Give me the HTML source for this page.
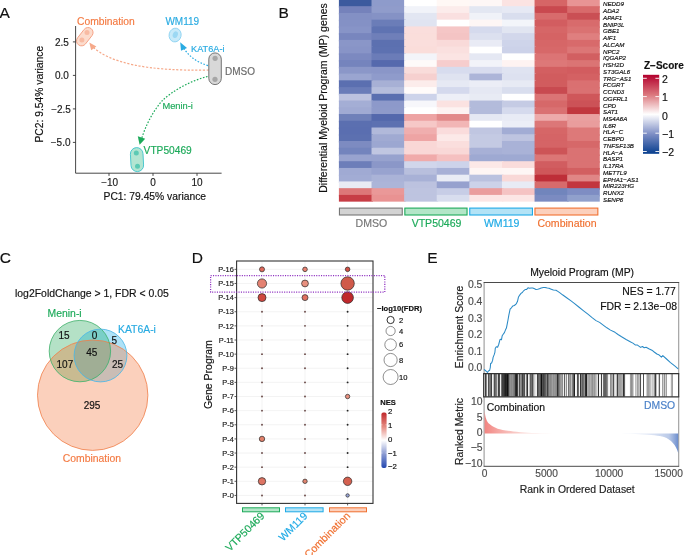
<!DOCTYPE html>
<html><head><meta charset="utf-8"><style>
html,body{margin:0;padding:0;background:#fff;}
svg{display:block;font-family:"Liberation Sans", sans-serif;filter:opacity(1);}
</style></head><body>
<svg width="685" height="555" viewBox="0 0 685 555">
<rect width="685" height="555" fill="#fff"/>
<text x="-0.40" y="17.80" font-size="15.5" fill="#111" stroke="#111" stroke-width="0.16" text-anchor="start">A</text>
<line x1="72.9" y1="41.90" x2="75.6" y2="41.90" stroke="#333" stroke-width="0.9"/>
<text x="68.80" y="45.50" font-size="10" fill="#1a1a1a" stroke="#1a1a1a" stroke-width="0.16" text-anchor="end">2.5</text>
<line x1="72.9" y1="75.40" x2="75.6" y2="75.40" stroke="#333" stroke-width="0.9"/>
<text x="68.80" y="79.00" font-size="10" fill="#1a1a1a" stroke="#1a1a1a" stroke-width="0.16" text-anchor="end">0.0</text>
<line x1="72.9" y1="108.90" x2="75.6" y2="108.90" stroke="#333" stroke-width="0.9"/>
<text x="70.90" y="112.50" font-size="10" fill="#1a1a1a" stroke="#1a1a1a" stroke-width="0.16" text-anchor="end">−2.5</text>
<line x1="72.9" y1="142.40" x2="75.6" y2="142.40" stroke="#333" stroke-width="0.9"/>
<text x="70.50" y="146.00" font-size="10" fill="#1a1a1a" stroke="#1a1a1a" stroke-width="0.16" text-anchor="end">−5.0</text>
<line x1="109.00" y1="173.2" x2="109.00" y2="175.9" stroke="#333" stroke-width="0.9"/>
<text x="109.70" y="186.30" font-size="10" fill="#1a1a1a" stroke="#1a1a1a" stroke-width="0.16" text-anchor="middle">−10</text>
<line x1="153.00" y1="173.2" x2="153.00" y2="175.9" stroke="#333" stroke-width="0.9"/>
<text x="153.00" y="186.30" font-size="10" fill="#1a1a1a" stroke="#1a1a1a" stroke-width="0.16" text-anchor="middle">0</text>
<line x1="197.00" y1="173.2" x2="197.00" y2="175.9" stroke="#333" stroke-width="0.9"/>
<text x="197.00" y="186.30" font-size="10" fill="#1a1a1a" stroke="#1a1a1a" stroke-width="0.16" text-anchor="middle">10</text>
<text x="154.80" y="200.20" font-size="10.3" fill="#111" stroke="#111" stroke-width="0.16" text-anchor="middle">PC1: 79.45% variance</text>
<text x="0" y="0" font-size="10.3" fill="#111" stroke="#111" stroke-width="0.16" text-anchor="middle" transform="translate(43.30,94.20) rotate(-90)">PC2: 9.54% variance</text>
<path d="M209,70 Q118,72 92,46" fill="none" stroke="#F6A98A" stroke-width="1.2" stroke-dasharray="2.2,1.6"/>
<path d="M89.3,42.5 L96.4,46.6 L91.2,50.2 Z" fill="#F6A98A"/>
<path d="M208,65.6 Q190,60 182.5,46" fill="none" stroke="#29ABE2" stroke-width="1.2" stroke-dasharray="1.6,1.6"/>
<path d="M180.2,42.3 L187.0,48.0 L181.0,50.8 Z" fill="#29ABE2"/>
<path d="M207.5,76.5 C190,81 172,91 162,101 C153,111 146,125 141.8,138" fill="none" stroke="#1DAA5A" stroke-width="1.2" stroke-dasharray="1.6,1.6"/>
<path d="M139.6,144.8 L137.8,136.3 L145.2,138.8 Z" fill="#1DAA5A"/>
<rect x="74.5" y="31.7" width="20.6" height="10.0" rx="5.0" transform="rotate(-52 84.8 36.7)" fill="#FCDCCD" stroke="#F5A285" stroke-width="0.9"/>
<circle cx="81.9" cy="39.9" r="2.5" fill="#F8BBA3"/><circle cx="87.0" cy="32.6" r="2.5" fill="#F8BBA3"/>
<ellipse cx="175.1" cy="35.05" rx="6.0" ry="6.9" transform="rotate(12 175.1 35.05)" fill="#C8EAF9" stroke="#8ED3F2" stroke-width="0.9"/>
<ellipse cx="175.3" cy="34.7" rx="2.5" ry="3.4" transform="rotate(20 175.3 34.7)" fill="#9CD8F3"/>
<rect x="208.8" y="52.9" width="12.5" height="31.7" rx="6.25" fill="#D8D8D8" stroke="#666" stroke-width="0.9"/>
<circle cx="215.1" cy="58.3" r="2.6" fill="#A6A6A6"/><circle cx="215.0" cy="79.3" r="2.6" fill="#A6A6A6"/>
<rect x="130.7" y="147.6" width="12.6" height="24.0" rx="6.3" transform="rotate(-3 137 159.6)" fill="#B3E5D2" stroke="#40C4CC" stroke-width="0.9"/>
<circle cx="136.3" cy="153.0" r="2.5" fill="#5CCAB4"/><circle cx="137.5" cy="166.2" r="2.5" fill="#5CCAB4"/>
<text x="77.00" y="25.00" font-size="10.3" fill="#F47A42" stroke="#F47A42" stroke-width="0.16" text-anchor="start">Combination</text>
<text x="165.40" y="25.00" font-size="10.0" fill="#29ABE2" stroke="#29ABE2" stroke-width="0.16" text-anchor="start">WM119</text>
<text x="191.00" y="51.70" font-size="9.2" fill="#29ABE2" stroke="#29ABE2" stroke-width="0.16" text-anchor="start">KAT6A-i</text>
<text x="225.00" y="75.00" font-size="10.0" fill="#6b6b6b" stroke="#6b6b6b" stroke-width="0.16" text-anchor="start">DMSO</text>
<path d="M75.6,26 V173.2 H221.6" fill="none" stroke="#333" stroke-width="0.9"/>
<text x="162.40" y="109.40" font-size="9.3" fill="#1DAA5A" stroke="#1DAA5A" stroke-width="0.16" text-anchor="start">Menin-i</text>
<text x="143.60" y="154.00" font-size="10.2" fill="#1DAA5A" stroke="#1DAA5A" stroke-width="0.16" text-anchor="start">VTP50469</text>
<text x="278.60" y="18.00" font-size="15.5" fill="#111" stroke="#111" stroke-width="0.16" text-anchor="start">B</text>
<rect x="338.90" y="-0.55" width="34.11" height="8.24" fill="#3C5A9E"/>
<rect x="371.51" y="-0.55" width="34.11" height="8.24" fill="#8E9BCB"/>
<rect x="404.12" y="-0.55" width="34.11" height="8.24" fill="#FFFFFF"/>
<rect x="436.73" y="-0.55" width="34.11" height="8.24" fill="#FFF8F5"/>
<rect x="469.34" y="-0.55" width="34.11" height="8.24" fill="#FEF7F6"/>
<rect x="501.95" y="-0.55" width="34.11" height="8.24" fill="#FBE3E2"/>
<rect x="534.56" y="-0.55" width="34.11" height="8.24" fill="#D66566"/>
<rect x="567.17" y="-0.55" width="32.61" height="8.24" fill="#E89494"/>
<rect x="338.90" y="6.19" width="34.11" height="8.24" fill="#7582BB"/>
<rect x="371.51" y="6.19" width="34.11" height="8.24" fill="#909CCB"/>
<rect x="404.12" y="6.19" width="34.11" height="8.24" fill="#F1F3F9"/>
<rect x="436.73" y="6.19" width="34.11" height="8.24" fill="#FCECEB"/>
<rect x="469.34" y="6.19" width="34.11" height="8.24" fill="#E3E7F2"/>
<rect x="501.95" y="6.19" width="34.11" height="8.24" fill="#E6E9F4"/>
<rect x="534.56" y="6.19" width="34.11" height="8.24" fill="#C9494F"/>
<rect x="567.17" y="6.19" width="32.61" height="8.24" fill="#D86A6B"/>
<rect x="338.90" y="12.93" width="34.11" height="8.24" fill="#8390C4"/>
<rect x="371.51" y="12.93" width="34.11" height="8.24" fill="#8592C5"/>
<rect x="404.12" y="12.93" width="34.11" height="8.24" fill="#E2E6F2"/>
<rect x="436.73" y="12.93" width="34.11" height="8.24" fill="#FAE0E0"/>
<rect x="469.34" y="12.93" width="34.11" height="8.24" fill="#F0F2F8"/>
<rect x="501.95" y="12.93" width="34.11" height="8.24" fill="#D9DEEE"/>
<rect x="534.56" y="12.93" width="34.11" height="8.24" fill="#D86B6C"/>
<rect x="567.17" y="12.93" width="32.61" height="8.24" fill="#CA4F54"/>
<rect x="338.90" y="19.67" width="34.11" height="8.24" fill="#8491C5"/>
<rect x="371.51" y="19.67" width="34.11" height="8.24" fill="#6B7DB8"/>
<rect x="404.12" y="19.67" width="34.11" height="8.24" fill="#E0E4F1"/>
<rect x="436.73" y="19.67" width="34.11" height="8.24" fill="#FFFFFF"/>
<rect x="469.34" y="19.67" width="34.11" height="8.24" fill="#FEF6F5"/>
<rect x="501.95" y="19.67" width="34.11" height="8.24" fill="#F3F5FA"/>
<rect x="534.56" y="19.67" width="34.11" height="8.24" fill="#D25D60"/>
<rect x="567.17" y="19.67" width="32.61" height="8.24" fill="#D86B6C"/>
<rect x="338.90" y="26.41" width="34.11" height="8.24" fill="#8794C7"/>
<rect x="371.51" y="26.41" width="34.11" height="8.24" fill="#5F73B2"/>
<rect x="404.12" y="26.41" width="34.11" height="8.24" fill="#FADEDC"/>
<rect x="436.73" y="26.41" width="34.11" height="8.24" fill="#F5C6C6"/>
<rect x="469.34" y="26.41" width="34.11" height="8.24" fill="#D5DAED"/>
<rect x="501.95" y="26.41" width="34.11" height="8.24" fill="#E1E5F1"/>
<rect x="534.56" y="26.41" width="34.11" height="8.24" fill="#D66667"/>
<rect x="567.17" y="26.41" width="32.61" height="8.24" fill="#DA7272"/>
<rect x="338.90" y="33.15" width="34.11" height="8.24" fill="#7886BE"/>
<rect x="371.51" y="33.15" width="34.11" height="8.24" fill="#6F7FB9"/>
<rect x="404.12" y="33.15" width="34.11" height="8.24" fill="#FADEDB"/>
<rect x="436.73" y="33.15" width="34.11" height="8.24" fill="#F4C4C4"/>
<rect x="469.34" y="33.15" width="34.11" height="8.24" fill="#DCE0EF"/>
<rect x="501.95" y="33.15" width="34.11" height="8.24" fill="#D2D7EB"/>
<rect x="534.56" y="33.15" width="34.11" height="8.24" fill="#D56364"/>
<rect x="567.17" y="33.15" width="32.61" height="8.24" fill="#DF7F7F"/>
<rect x="338.90" y="39.89" width="34.11" height="8.24" fill="#8A96C8"/>
<rect x="371.51" y="39.89" width="34.11" height="8.24" fill="#5C70B0"/>
<rect x="404.12" y="39.89" width="34.11" height="8.24" fill="#FADEDC"/>
<rect x="436.73" y="39.89" width="34.11" height="8.24" fill="#F9DAD9"/>
<rect x="469.34" y="39.89" width="34.11" height="8.24" fill="#E9EBF5"/>
<rect x="501.95" y="39.89" width="34.11" height="8.24" fill="#CED4EA"/>
<rect x="534.56" y="39.89" width="34.11" height="8.24" fill="#D66667"/>
<rect x="567.17" y="39.89" width="32.61" height="8.24" fill="#D86A6B"/>
<rect x="338.90" y="46.63" width="34.11" height="8.24" fill="#8894C7"/>
<rect x="371.51" y="46.63" width="34.11" height="8.24" fill="#5D71B1"/>
<rect x="404.12" y="46.63" width="34.11" height="8.24" fill="#FADDDA"/>
<rect x="436.73" y="46.63" width="34.11" height="8.24" fill="#FAE0DF"/>
<rect x="469.34" y="46.63" width="34.11" height="8.24" fill="#FFFFFF"/>
<rect x="501.95" y="46.63" width="34.11" height="8.24" fill="#CCD2E9"/>
<rect x="534.56" y="46.63" width="34.11" height="8.24" fill="#D76869"/>
<rect x="567.17" y="46.63" width="32.61" height="8.24" fill="#DC7676"/>
<rect x="338.90" y="53.37" width="34.11" height="8.24" fill="#7C89C0"/>
<rect x="371.51" y="53.37" width="34.11" height="8.24" fill="#6B7CB8"/>
<rect x="404.12" y="53.37" width="34.11" height="8.24" fill="#F3F4F9"/>
<rect x="436.73" y="53.37" width="34.11" height="8.24" fill="#FBE4E3"/>
<rect x="469.34" y="53.37" width="34.11" height="8.24" fill="#E5E8F3"/>
<rect x="501.95" y="53.37" width="34.11" height="8.24" fill="#FFFFFF"/>
<rect x="534.56" y="53.37" width="34.11" height="8.24" fill="#DC7475"/>
<rect x="567.17" y="53.37" width="32.61" height="8.24" fill="#D25F61"/>
<rect x="338.90" y="60.11" width="34.11" height="8.24" fill="#7584BD"/>
<rect x="371.51" y="60.11" width="34.11" height="8.24" fill="#5569AD"/>
<rect x="404.12" y="60.11" width="34.11" height="8.24" fill="#FEFAF9"/>
<rect x="436.73" y="60.11" width="34.11" height="8.24" fill="#F6CDCD"/>
<rect x="469.34" y="60.11" width="34.11" height="8.24" fill="#F2F3F9"/>
<rect x="501.95" y="60.11" width="34.11" height="8.24" fill="#FEF3F2"/>
<rect x="534.56" y="60.11" width="34.11" height="8.24" fill="#DD7878"/>
<rect x="567.17" y="60.11" width="32.61" height="8.24" fill="#DB7474"/>
<rect x="338.90" y="66.85" width="34.11" height="8.24" fill="#8B97C8"/>
<rect x="371.51" y="66.85" width="34.11" height="8.24" fill="#8A96C8"/>
<rect x="404.12" y="66.85" width="34.11" height="8.24" fill="#F9DCDA"/>
<rect x="436.73" y="66.85" width="34.11" height="8.24" fill="#D7DCEE"/>
<rect x="469.34" y="66.85" width="34.11" height="8.24" fill="#D8DCEE"/>
<rect x="501.95" y="66.85" width="34.11" height="8.24" fill="#DFE3F1"/>
<rect x="534.56" y="66.85" width="34.11" height="8.24" fill="#D35F61"/>
<rect x="567.17" y="66.85" width="32.61" height="8.24" fill="#D25C5F"/>
<rect x="338.90" y="73.59" width="34.11" height="8.24" fill="#9AA5D0"/>
<rect x="371.51" y="73.59" width="34.11" height="8.24" fill="#8F9BCB"/>
<rect x="404.12" y="73.59" width="34.11" height="8.24" fill="#F6D0CF"/>
<rect x="436.73" y="73.59" width="34.11" height="8.24" fill="#DFE3F0"/>
<rect x="469.34" y="73.59" width="34.11" height="8.24" fill="#ADB5D8"/>
<rect x="501.95" y="73.59" width="34.11" height="8.24" fill="#DDE1F0"/>
<rect x="534.56" y="73.59" width="34.11" height="8.24" fill="#D15C5E"/>
<rect x="567.17" y="73.59" width="32.61" height="8.24" fill="#D46163"/>
<rect x="338.90" y="80.33" width="34.11" height="8.24" fill="#5B6FB0"/>
<rect x="371.51" y="80.33" width="34.11" height="8.24" fill="#A7B0D5"/>
<rect x="404.12" y="80.33" width="34.11" height="8.24" fill="#FCECEB"/>
<rect x="436.73" y="80.33" width="34.11" height="8.24" fill="#E6E9F4"/>
<rect x="469.34" y="80.33" width="34.11" height="8.24" fill="#EBEDF6"/>
<rect x="501.95" y="80.33" width="34.11" height="8.24" fill="#E7EAF4"/>
<rect x="534.56" y="80.33" width="34.11" height="8.24" fill="#D15C5E"/>
<rect x="567.17" y="80.33" width="32.61" height="8.24" fill="#DA7071"/>
<rect x="338.90" y="87.07" width="34.11" height="8.24" fill="#6A7CB8"/>
<rect x="371.51" y="87.07" width="34.11" height="8.24" fill="#B5BDDC"/>
<rect x="404.12" y="87.07" width="34.11" height="8.24" fill="#FFFBFA"/>
<rect x="436.73" y="87.07" width="34.11" height="8.24" fill="#D4D9ED"/>
<rect x="469.34" y="87.07" width="34.11" height="8.24" fill="#E5E8F3"/>
<rect x="501.95" y="87.07" width="34.11" height="8.24" fill="#D9DEEE"/>
<rect x="534.56" y="87.07" width="34.11" height="8.24" fill="#C84A50"/>
<rect x="567.17" y="87.07" width="32.61" height="8.24" fill="#DA7172"/>
<rect x="338.90" y="93.81" width="34.11" height="8.24" fill="#BCC2DF"/>
<rect x="371.51" y="93.81" width="34.11" height="8.24" fill="#5A6FB0"/>
<rect x="404.12" y="93.81" width="34.11" height="8.24" fill="#CDD3EA"/>
<rect x="436.73" y="93.81" width="34.11" height="8.24" fill="#EDEFF7"/>
<rect x="469.34" y="93.81" width="34.11" height="8.24" fill="#E8EBF4"/>
<rect x="501.95" y="93.81" width="34.11" height="8.24" fill="#FFFFFF"/>
<rect x="534.56" y="93.81" width="34.11" height="8.24" fill="#DB7475"/>
<rect x="567.17" y="93.81" width="32.61" height="8.24" fill="#CF575A"/>
<rect x="338.90" y="100.55" width="34.11" height="8.24" fill="#A4AED5"/>
<rect x="371.51" y="100.55" width="34.11" height="8.24" fill="#8D99CA"/>
<rect x="404.12" y="100.55" width="34.11" height="8.24" fill="#F7F7FB"/>
<rect x="436.73" y="100.55" width="34.11" height="8.24" fill="#FBE2E1"/>
<rect x="469.34" y="100.55" width="34.11" height="8.24" fill="#B3BBDB"/>
<rect x="501.95" y="100.55" width="34.11" height="8.24" fill="#C5CBE4"/>
<rect x="534.56" y="100.55" width="34.11" height="8.24" fill="#D66869"/>
<rect x="567.17" y="100.55" width="32.61" height="8.24" fill="#CC5257"/>
<rect x="338.90" y="107.29" width="34.11" height="8.24" fill="#A0AAD3"/>
<rect x="371.51" y="107.29" width="34.11" height="8.24" fill="#8E9ACA"/>
<rect x="404.12" y="107.29" width="34.11" height="8.24" fill="#FFFFFF"/>
<rect x="436.73" y="107.29" width="34.11" height="8.24" fill="#FDF3F2"/>
<rect x="469.34" y="107.29" width="34.11" height="8.24" fill="#B3BBDB"/>
<rect x="501.95" y="107.29" width="34.11" height="8.24" fill="#D5DAED"/>
<rect x="534.56" y="107.29" width="34.11" height="8.24" fill="#DA7172"/>
<rect x="567.17" y="107.29" width="32.61" height="8.24" fill="#C1383F"/>
<rect x="338.90" y="114.03" width="34.11" height="8.24" fill="#6F80B9"/>
<rect x="371.51" y="114.03" width="34.11" height="8.24" fill="#5468AC"/>
<rect x="404.12" y="114.03" width="34.11" height="8.24" fill="#EDA3A3"/>
<rect x="436.73" y="114.03" width="34.11" height="8.24" fill="#E28A8A"/>
<rect x="469.34" y="114.03" width="34.11" height="8.24" fill="#E5E8F3"/>
<rect x="501.95" y="114.03" width="34.11" height="8.24" fill="#E8EBF5"/>
<rect x="534.56" y="114.03" width="34.11" height="8.24" fill="#EDAAAA"/>
<rect x="567.17" y="114.03" width="32.61" height="8.24" fill="#E9A0A0"/>
<rect x="338.90" y="120.77" width="34.11" height="8.24" fill="#5B6FB0"/>
<rect x="371.51" y="120.77" width="34.11" height="8.24" fill="#5D71B1"/>
<rect x="404.12" y="120.77" width="34.11" height="8.24" fill="#F6C8C7"/>
<rect x="436.73" y="120.77" width="34.11" height="8.24" fill="#F2B6B6"/>
<rect x="469.34" y="120.77" width="34.11" height="8.24" fill="#FFFFFF"/>
<rect x="501.95" y="120.77" width="34.11" height="8.24" fill="#ECEEF7"/>
<rect x="534.56" y="120.77" width="34.11" height="8.24" fill="#DC7778"/>
<rect x="567.17" y="120.77" width="32.61" height="8.24" fill="#E99D9D"/>
<rect x="338.90" y="127.51" width="34.11" height="8.24" fill="#5A6EB0"/>
<rect x="371.51" y="127.51" width="34.11" height="8.24" fill="#B1B9DA"/>
<rect x="404.12" y="127.51" width="34.11" height="8.24" fill="#F0AEAE"/>
<rect x="436.73" y="127.51" width="34.11" height="8.24" fill="#FADCDC"/>
<rect x="469.34" y="127.51" width="34.11" height="8.24" fill="#C0C6E1"/>
<rect x="501.95" y="127.51" width="34.11" height="8.24" fill="#A2ACD4"/>
<rect x="534.56" y="127.51" width="34.11" height="8.24" fill="#D66667"/>
<rect x="567.17" y="127.51" width="32.61" height="8.24" fill="#DD7979"/>
<rect x="338.90" y="134.25" width="34.11" height="8.24" fill="#5C70B0"/>
<rect x="371.51" y="134.25" width="34.11" height="8.24" fill="#A0AAD2"/>
<rect x="404.12" y="134.25" width="34.11" height="8.24" fill="#EEA4A4"/>
<rect x="436.73" y="134.25" width="34.11" height="8.24" fill="#FCE9E8"/>
<rect x="469.34" y="134.25" width="34.11" height="8.24" fill="#C4CAE3"/>
<rect x="501.95" y="134.25" width="34.11" height="8.24" fill="#BEC4E0"/>
<rect x="534.56" y="134.25" width="34.11" height="8.24" fill="#D56466"/>
<rect x="567.17" y="134.25" width="32.61" height="8.24" fill="#DD7979"/>
<rect x="338.90" y="140.99" width="34.11" height="8.24" fill="#7D8BC1"/>
<rect x="371.51" y="140.99" width="34.11" height="8.24" fill="#9CA7D1"/>
<rect x="404.12" y="140.99" width="34.11" height="8.24" fill="#F9D7D6"/>
<rect x="436.73" y="140.99" width="34.11" height="8.24" fill="#FADEDD"/>
<rect x="469.34" y="140.99" width="34.11" height="8.24" fill="#C4CAE3"/>
<rect x="501.95" y="140.99" width="34.11" height="8.24" fill="#A9B2D7"/>
<rect x="534.56" y="140.99" width="34.11" height="8.24" fill="#D56466"/>
<rect x="567.17" y="140.99" width="32.61" height="8.24" fill="#D66869"/>
<rect x="338.90" y="147.73" width="34.11" height="8.24" fill="#7384BD"/>
<rect x="371.51" y="147.73" width="34.11" height="8.24" fill="#C0C6E1"/>
<rect x="404.12" y="147.73" width="34.11" height="8.24" fill="#F9D7D6"/>
<rect x="436.73" y="147.73" width="34.11" height="8.24" fill="#F9D8D7"/>
<rect x="469.34" y="147.73" width="34.11" height="8.24" fill="#A7B0D6"/>
<rect x="501.95" y="147.73" width="34.11" height="8.24" fill="#A9B2D7"/>
<rect x="534.56" y="147.73" width="34.11" height="8.24" fill="#CD5457"/>
<rect x="567.17" y="147.73" width="32.61" height="8.24" fill="#DA7273"/>
<rect x="338.90" y="154.47" width="34.11" height="8.24" fill="#98A3CF"/>
<rect x="371.51" y="154.47" width="34.11" height="8.24" fill="#97A2CE"/>
<rect x="404.12" y="154.47" width="34.11" height="8.24" fill="#F0AAAA"/>
<rect x="436.73" y="154.47" width="34.11" height="8.24" fill="#F5C0C0"/>
<rect x="469.34" y="154.47" width="34.11" height="8.24" fill="#9EA9D2"/>
<rect x="501.95" y="154.47" width="34.11" height="8.24" fill="#9EA9D2"/>
<rect x="534.56" y="154.47" width="34.11" height="8.24" fill="#DC7676"/>
<rect x="567.17" y="154.47" width="32.61" height="8.24" fill="#DA7273"/>
<rect x="338.90" y="161.21" width="34.11" height="8.24" fill="#6D7EB9"/>
<rect x="371.51" y="161.21" width="34.11" height="8.24" fill="#8B97C8"/>
<rect x="404.12" y="161.21" width="34.11" height="8.24" fill="#D1D6EB"/>
<rect x="436.73" y="161.21" width="34.11" height="8.24" fill="#CDD3EA"/>
<rect x="469.34" y="161.21" width="34.11" height="8.24" fill="#FCE8E7"/>
<rect x="501.95" y="161.21" width="34.11" height="8.24" fill="#FADCDB"/>
<rect x="534.56" y="161.21" width="34.11" height="8.24" fill="#D15D60"/>
<rect x="567.17" y="161.21" width="32.61" height="8.24" fill="#DA7273"/>
<rect x="338.90" y="167.95" width="34.11" height="8.24" fill="#A0AAD3"/>
<rect x="371.51" y="167.95" width="34.11" height="8.24" fill="#98A3CF"/>
<rect x="404.12" y="167.95" width="34.11" height="8.24" fill="#B8BFDD"/>
<rect x="436.73" y="167.95" width="34.11" height="8.24" fill="#A7B0D6"/>
<rect x="469.34" y="167.95" width="34.11" height="8.24" fill="#FEF5F4"/>
<rect x="501.95" y="167.95" width="34.11" height="8.24" fill="#FEF6F5"/>
<rect x="534.56" y="167.95" width="34.11" height="8.24" fill="#CF575A"/>
<rect x="567.17" y="167.95" width="32.61" height="8.24" fill="#D25F61"/>
<rect x="338.90" y="174.69" width="34.11" height="8.24" fill="#A2ACD4"/>
<rect x="371.51" y="174.69" width="34.11" height="8.24" fill="#AAB3D7"/>
<rect x="404.12" y="174.69" width="34.11" height="8.24" fill="#A8B1D6"/>
<rect x="436.73" y="174.69" width="34.11" height="8.24" fill="#E9ECF5"/>
<rect x="469.34" y="174.69" width="34.11" height="8.24" fill="#BAC1DF"/>
<rect x="501.95" y="174.69" width="34.11" height="8.24" fill="#F9D8D7"/>
<rect x="534.56" y="174.69" width="34.11" height="8.24" fill="#BE2E38"/>
<rect x="567.17" y="174.69" width="32.61" height="8.24" fill="#E08686"/>
<rect x="338.90" y="181.43" width="34.11" height="8.24" fill="#E9EBF4"/>
<rect x="371.51" y="181.43" width="34.11" height="8.24" fill="#ACB5D8"/>
<rect x="404.12" y="181.43" width="34.11" height="8.24" fill="#BCC2DF"/>
<rect x="436.73" y="181.43" width="34.11" height="8.24" fill="#96A1CE"/>
<rect x="469.34" y="181.43" width="34.11" height="8.24" fill="#CCD2E9"/>
<rect x="501.95" y="181.43" width="34.11" height="8.24" fill="#E8EBF5"/>
<rect x="534.56" y="181.43" width="34.11" height="8.24" fill="#D76B6C"/>
<rect x="567.17" y="181.43" width="32.61" height="8.24" fill="#C2363E"/>
<rect x="338.90" y="188.17" width="34.11" height="8.24" fill="#DD7778"/>
<rect x="371.51" y="188.17" width="34.11" height="8.24" fill="#EA9898"/>
<rect x="404.12" y="188.17" width="34.11" height="8.24" fill="#BEC4E0"/>
<rect x="436.73" y="188.17" width="34.11" height="8.24" fill="#C7CDE6"/>
<rect x="469.34" y="188.17" width="34.11" height="8.24" fill="#EA9D9D"/>
<rect x="501.95" y="188.17" width="34.11" height="8.24" fill="#F5C3C3"/>
<rect x="534.56" y="188.17" width="34.11" height="8.24" fill="#7185BC"/>
<rect x="567.17" y="188.17" width="32.61" height="8.24" fill="#7E8DC3"/>
<rect x="338.90" y="194.91" width="34.11" height="6.74" fill="#C73D45"/>
<rect x="371.51" y="194.91" width="34.11" height="6.74" fill="#E99292"/>
<rect x="404.12" y="194.91" width="34.11" height="6.74" fill="#BEC4E0"/>
<rect x="436.73" y="194.91" width="34.11" height="6.74" fill="#D8DDEE"/>
<rect x="469.34" y="194.91" width="34.11" height="6.74" fill="#FCE6E5"/>
<rect x="501.95" y="194.91" width="34.11" height="6.74" fill="#FCE6E5"/>
<rect x="534.56" y="194.91" width="34.11" height="6.74" fill="#7B8BC1"/>
<rect x="567.17" y="194.91" width="32.61" height="6.74" fill="#90A0CC"/>
<text x="603.00" y="6.40" font-size="6.2" fill="#111" stroke="#111" stroke-width="0.16" text-anchor="start" font-style="italic">NEDD9</text>
<text x="603.00" y="13.14" font-size="6.2" fill="#111" stroke="#111" stroke-width="0.16" text-anchor="start" font-style="italic">ADA2</text>
<text x="603.00" y="19.88" font-size="6.2" fill="#111" stroke="#111" stroke-width="0.16" text-anchor="start" font-style="italic">APAF1</text>
<text x="603.00" y="26.62" font-size="6.2" fill="#111" stroke="#111" stroke-width="0.16" text-anchor="start" font-style="italic">BNIP3L</text>
<text x="603.00" y="33.36" font-size="6.2" fill="#111" stroke="#111" stroke-width="0.16" text-anchor="start" font-style="italic">GBE1</text>
<text x="603.00" y="40.10" font-size="6.2" fill="#111" stroke="#111" stroke-width="0.16" text-anchor="start" font-style="italic">AIF1</text>
<text x="603.00" y="46.84" font-size="6.2" fill="#111" stroke="#111" stroke-width="0.16" text-anchor="start" font-style="italic">ALCAM</text>
<text x="603.00" y="53.58" font-size="6.2" fill="#111" stroke="#111" stroke-width="0.16" text-anchor="start" font-style="italic">NPC2</text>
<text x="603.00" y="60.32" font-size="6.2" fill="#111" stroke="#111" stroke-width="0.16" text-anchor="start" font-style="italic">IQGAP2</text>
<text x="603.00" y="67.06" font-size="6.2" fill="#111" stroke="#111" stroke-width="0.16" text-anchor="start" font-style="italic">HSH2D</text>
<text x="603.00" y="73.80" font-size="6.2" fill="#111" stroke="#111" stroke-width="0.16" text-anchor="start" font-style="italic">ST3GAL6</text>
<text x="603.00" y="80.54" font-size="6.2" fill="#111" stroke="#111" stroke-width="0.16" text-anchor="start" font-style="italic">TRG−AS1</text>
<text x="603.00" y="87.28" font-size="6.2" fill="#111" stroke="#111" stroke-width="0.16" text-anchor="start" font-style="italic">FCGRT</text>
<text x="603.00" y="94.02" font-size="6.2" fill="#111" stroke="#111" stroke-width="0.16" text-anchor="start" font-style="italic">CCND3</text>
<text x="603.00" y="100.76" font-size="6.2" fill="#111" stroke="#111" stroke-width="0.16" text-anchor="start" font-style="italic">OGFRL1</text>
<text x="603.00" y="107.50" font-size="6.2" fill="#111" stroke="#111" stroke-width="0.16" text-anchor="start" font-style="italic">CPD</text>
<text x="603.00" y="114.24" font-size="6.2" fill="#111" stroke="#111" stroke-width="0.16" text-anchor="start" font-style="italic">SAT1</text>
<text x="603.00" y="120.98" font-size="6.2" fill="#111" stroke="#111" stroke-width="0.16" text-anchor="start" font-style="italic">MS4A6A</text>
<text x="603.00" y="127.72" font-size="6.2" fill="#111" stroke="#111" stroke-width="0.16" text-anchor="start" font-style="italic">IL6R</text>
<text x="603.00" y="134.46" font-size="6.2" fill="#111" stroke="#111" stroke-width="0.16" text-anchor="start" font-style="italic">HLA−C</text>
<text x="603.00" y="141.20" font-size="6.2" fill="#111" stroke="#111" stroke-width="0.16" text-anchor="start" font-style="italic">CEBPD</text>
<text x="603.00" y="147.94" font-size="6.2" fill="#111" stroke="#111" stroke-width="0.16" text-anchor="start" font-style="italic">TNFSF13B</text>
<text x="603.00" y="154.68" font-size="6.2" fill="#111" stroke="#111" stroke-width="0.16" text-anchor="start" font-style="italic">HLA−A</text>
<text x="603.00" y="161.42" font-size="6.2" fill="#111" stroke="#111" stroke-width="0.16" text-anchor="start" font-style="italic">BASP1</text>
<text x="603.00" y="168.16" font-size="6.2" fill="#111" stroke="#111" stroke-width="0.16" text-anchor="start" font-style="italic">IL17RA</text>
<text x="603.00" y="174.90" font-size="6.2" fill="#111" stroke="#111" stroke-width="0.16" text-anchor="start" font-style="italic">METTL9</text>
<text x="603.00" y="181.64" font-size="6.2" fill="#111" stroke="#111" stroke-width="0.16" text-anchor="start" font-style="italic">EPHA1−AS1</text>
<text x="603.00" y="188.38" font-size="6.2" fill="#111" stroke="#111" stroke-width="0.16" text-anchor="start" font-style="italic">MIR223HG</text>
<text x="603.00" y="195.12" font-size="6.2" fill="#111" stroke="#111" stroke-width="0.16" text-anchor="start" font-style="italic">RUNX2</text>
<text x="603.00" y="201.86" font-size="6.2" fill="#111" stroke="#111" stroke-width="0.16" text-anchor="start" font-style="italic">SENP6</text>
<text x="0" y="0" font-size="10.5" fill="#111" stroke="#111" stroke-width="0.16" text-anchor="middle" transform="translate(327.20,98.00) rotate(-90)">Differential Myeloid Program (MP) genes</text>
<rect x="339.45" y="208.1" width="62.80" height="6.9" fill="#D3D3D3" stroke="#767676" stroke-width="1.1"/>
<text x="371.45" y="226.90" font-size="10.55" fill="#767676" stroke="#767676" stroke-width="0.16" text-anchor="middle">DMSO</text>
<rect x="404.85" y="208.1" width="62.20" height="6.9" fill="#B3E6C8" stroke="#1DAA5A" stroke-width="1.1"/>
<text x="436.55" y="226.90" font-size="10.55" fill="#1DAA5A" stroke="#1DAA5A" stroke-width="0.16" text-anchor="middle">VTP50469</text>
<rect x="469.75" y="208.1" width="62.70" height="6.9" fill="#B3E3F6" stroke="#1EAAE6" stroke-width="1.1"/>
<text x="501.70" y="226.90" font-size="10.55" fill="#1EAAE6" stroke="#1EAAE6" stroke-width="0.16" text-anchor="middle">WM119</text>
<rect x="534.95" y="208.1" width="62.90" height="6.9" fill="#FCD0BC" stroke="#F07030" stroke-width="1.1"/>
<text x="567.00" y="226.90" font-size="10.55" fill="#F07030" stroke="#F07030" stroke-width="0.16" text-anchor="middle">Combination</text>
<text x="644.00" y="68.90" font-size="10" fill="#111" stroke="#111" stroke-width="0.16" text-anchor="start" font-weight="bold">Z−Score</text>
<defs><linearGradient id="zg" x1="0" y1="0" x2="0" y2="1"><stop offset="0" stop-color="#B2002D"/><stop offset="0.25" stop-color="#DB767C"/><stop offset="0.5" stop-color="#FFFFFF"/><stop offset="0.75" stop-color="#7E8EC5"/><stop offset="1" stop-color="#073E8E"/></linearGradient></defs>
<rect x="643" y="74.8" width="16.2" height="79" fill="url(#zg)"/>
<line x1="643" y1="78.30" x2="646.8" y2="78.30" stroke="#fff" stroke-width="0.9"/>
<line x1="655.4" y1="78.30" x2="659.2" y2="78.30" stroke="#fff" stroke-width="0.9"/>
<text x="662.00" y="83.10" font-size="10.5" fill="#111" stroke="#111" stroke-width="0.16" text-anchor="start">2</text>
<line x1="643" y1="96.60" x2="646.8" y2="96.60" stroke="#fff" stroke-width="0.9"/>
<line x1="655.4" y1="96.60" x2="659.2" y2="96.60" stroke="#fff" stroke-width="0.9"/>
<text x="662.00" y="101.40" font-size="10.5" fill="#111" stroke="#111" stroke-width="0.16" text-anchor="start">1</text>
<text x="662.00" y="119.70" font-size="10.5" fill="#111" stroke="#111" stroke-width="0.16" text-anchor="start">0</text>
<line x1="643" y1="133.20" x2="646.8" y2="133.20" stroke="#fff" stroke-width="0.9"/>
<line x1="655.4" y1="133.20" x2="659.2" y2="133.20" stroke="#fff" stroke-width="0.9"/>
<text x="662.00" y="138.00" font-size="10.5" fill="#111" stroke="#111" stroke-width="0.16" text-anchor="start">−1</text>
<line x1="643" y1="151.50" x2="646.8" y2="151.50" stroke="#fff" stroke-width="0.9"/>
<line x1="655.4" y1="151.50" x2="659.2" y2="151.50" stroke="#fff" stroke-width="0.9"/>
<text x="662.00" y="156.30" font-size="10.5" fill="#111" stroke="#111" stroke-width="0.16" text-anchor="start">−2</text>
<text x="-0.30" y="263.40" font-size="15.5" fill="#111" stroke="#111" stroke-width="0.16" text-anchor="start">C</text>
<text x="15.00" y="297.30" font-size="10.45" fill="#111" stroke="#111" stroke-width="0.16" text-anchor="start">log2FoldChange &gt; 1, FDR &lt; 0.05</text>
<text x="47.60" y="317.00" font-size="10.4" fill="#1DAA5A" stroke="#1DAA5A" stroke-width="0.16" text-anchor="start">Menin-i</text>
<text x="118.00" y="332.60" font-size="10.4" fill="#29ABE2" stroke="#29ABE2" stroke-width="0.16" text-anchor="start">KAT6A-i</text>
<defs><clipPath id="cO"><circle cx="92.7" cy="395.2" r="55.2"/></clipPath><clipPath id="cB"><circle cx="100.5" cy="355.5" r="26.4"/></clipPath></defs>
<circle cx="92.7" cy="395.2" r="55.2" fill="#FBD0BC"/>
<circle cx="79.9" cy="351.1" r="30.7" fill="#B4E1C6"/>
<circle cx="100.5" cy="355.5" r="26.4" fill="#AEE2F7"/>
<circle cx="79.9" cy="351.1" r="30.7" fill="#C9BB91" clip-path="url(#cO)"/>
<circle cx="100.5" cy="355.5" r="26.4" fill="#CABDB5" clip-path="url(#cO)"/>
<circle cx="79.9" cy="351.1" r="30.7" fill="#7ACFC8" clip-path="url(#cB)"/>
<g clip-path="url(#cO)"><circle cx="79.9" cy="351.1" r="30.7" fill="#A0AE95" clip-path="url(#cB)"/></g>
<circle cx="92.7" cy="395.2" r="55.2" fill="none" stroke="#F07F4A" stroke-width="0.8"/>
<circle cx="79.9" cy="351.1" r="30.7" fill="none" stroke="#3DB06A" stroke-width="0.8"/>
<circle cx="100.5" cy="355.5" r="26.4" fill="none" stroke="#4AB5E5" stroke-width="0.8"/>
<text x="64.00" y="339.20" font-size="10" fill="#111" stroke="#111" stroke-width="0.16" text-anchor="middle">15</text>
<text x="94.60" y="339.20" font-size="10" fill="#111" stroke="#111" stroke-width="0.16" text-anchor="middle">0</text>
<text x="114.20" y="343.80" font-size="10" fill="#111" stroke="#111" stroke-width="0.16" text-anchor="middle">5</text>
<text x="91.70" y="356.00" font-size="10" fill="#111" stroke="#111" stroke-width="0.16" text-anchor="middle">45</text>
<text x="64.90" y="367.50" font-size="10" fill="#111" stroke="#111" stroke-width="0.16" text-anchor="middle">107</text>
<text x="117.60" y="367.50" font-size="10" fill="#111" stroke="#111" stroke-width="0.16" text-anchor="middle">25</text>
<text x="92.10" y="409.30" font-size="10" fill="#111" stroke="#111" stroke-width="0.16" text-anchor="middle">295</text>
<text x="91.90" y="461.60" font-size="10.4" fill="#F47A42" stroke="#F47A42" stroke-width="0.16" text-anchor="middle">Combination</text>
<text x="191.80" y="263.20" font-size="15.5" fill="#111" stroke="#111" stroke-width="0.16" text-anchor="start">D</text>
<line x1="236.6" y1="495.43" x2="373.0" y2="495.43" stroke="#EBEBEB" stroke-width="0.6"/>
<line x1="236.6" y1="481.30" x2="373.0" y2="481.30" stroke="#EBEBEB" stroke-width="0.6"/>
<line x1="236.6" y1="467.17" x2="373.0" y2="467.17" stroke="#EBEBEB" stroke-width="0.6"/>
<line x1="236.6" y1="453.04" x2="373.0" y2="453.04" stroke="#EBEBEB" stroke-width="0.6"/>
<line x1="236.6" y1="438.91" x2="373.0" y2="438.91" stroke="#EBEBEB" stroke-width="0.6"/>
<line x1="236.6" y1="424.78" x2="373.0" y2="424.78" stroke="#EBEBEB" stroke-width="0.6"/>
<line x1="236.6" y1="410.65" x2="373.0" y2="410.65" stroke="#EBEBEB" stroke-width="0.6"/>
<line x1="236.6" y1="396.52" x2="373.0" y2="396.52" stroke="#EBEBEB" stroke-width="0.6"/>
<line x1="236.6" y1="382.39" x2="373.0" y2="382.39" stroke="#EBEBEB" stroke-width="0.6"/>
<line x1="236.6" y1="368.26" x2="373.0" y2="368.26" stroke="#EBEBEB" stroke-width="0.6"/>
<line x1="236.6" y1="354.13" x2="373.0" y2="354.13" stroke="#EBEBEB" stroke-width="0.6"/>
<line x1="236.6" y1="340.00" x2="373.0" y2="340.00" stroke="#EBEBEB" stroke-width="0.6"/>
<line x1="236.6" y1="325.87" x2="373.0" y2="325.87" stroke="#EBEBEB" stroke-width="0.6"/>
<line x1="236.6" y1="311.74" x2="373.0" y2="311.74" stroke="#EBEBEB" stroke-width="0.6"/>
<line x1="236.6" y1="297.61" x2="373.0" y2="297.61" stroke="#EBEBEB" stroke-width="0.6"/>
<line x1="236.6" y1="283.48" x2="373.0" y2="283.48" stroke="#EBEBEB" stroke-width="0.6"/>
<line x1="236.6" y1="269.35" x2="373.0" y2="269.35" stroke="#EBEBEB" stroke-width="0.6"/>
<line x1="262.0" y1="261.0" x2="262.0" y2="503.4" stroke="#EBEBEB" stroke-width="0.6"/>
<line x1="305.0" y1="261.0" x2="305.0" y2="503.4" stroke="#EBEBEB" stroke-width="0.6"/>
<line x1="347.6" y1="261.0" x2="347.6" y2="503.4" stroke="#EBEBEB" stroke-width="0.6"/>
<circle cx="262.0" cy="495.43" r="0.95" fill="#6a4a48"/>
<circle cx="262.0" cy="467.17" r="0.95" fill="#6a4a48"/>
<circle cx="262.0" cy="453.04" r="0.95" fill="#6a4a48"/>
<circle cx="262.0" cy="424.78" r="0.95" fill="#6a4a48"/>
<circle cx="262.0" cy="410.65" r="0.95" fill="#6a4a48"/>
<circle cx="262.0" cy="396.52" r="0.95" fill="#6a4a48"/>
<circle cx="262.0" cy="382.39" r="0.95" fill="#6a4a48"/>
<circle cx="262.0" cy="368.26" r="0.95" fill="#6a4a48"/>
<circle cx="262.0" cy="354.13" r="0.95" fill="#6a4a48"/>
<circle cx="262.0" cy="340.00" r="0.95" fill="#6a4a48"/>
<circle cx="262.0" cy="325.87" r="0.95" fill="#6a4a48"/>
<circle cx="262.0" cy="311.74" r="0.95" fill="#6a4a48"/>
<circle cx="305.0" cy="495.43" r="0.95" fill="#6a4a48"/>
<circle cx="305.0" cy="467.17" r="0.95" fill="#6a4a48"/>
<circle cx="305.0" cy="453.04" r="0.95" fill="#6a4a48"/>
<circle cx="305.0" cy="438.91" r="0.95" fill="#6a4a48"/>
<circle cx="305.0" cy="424.78" r="0.95" fill="#6a4a48"/>
<circle cx="305.0" cy="410.65" r="0.95" fill="#6a4a48"/>
<circle cx="305.0" cy="396.52" r="0.95" fill="#6a4a48"/>
<circle cx="305.0" cy="382.39" r="0.95" fill="#6a4a48"/>
<circle cx="305.0" cy="368.26" r="0.95" fill="#6a4a48"/>
<circle cx="305.0" cy="354.13" r="0.95" fill="#6a4a48"/>
<circle cx="305.0" cy="340.00" r="0.95" fill="#6a4a48"/>
<circle cx="305.0" cy="325.87" r="0.95" fill="#6a4a48"/>
<circle cx="305.0" cy="311.74" r="0.95" fill="#6a4a48"/>
<circle cx="347.6" cy="467.17" r="0.95" fill="#262626"/>
<circle cx="347.6" cy="453.04" r="0.95" fill="#262626"/>
<circle cx="347.6" cy="438.91" r="0.95" fill="#262626"/>
<circle cx="347.6" cy="424.78" r="0.95" fill="#262626"/>
<circle cx="347.6" cy="410.65" r="0.95" fill="#262626"/>
<circle cx="347.6" cy="382.39" r="0.95" fill="#262626"/>
<circle cx="347.6" cy="368.26" r="0.95" fill="#262626"/>
<circle cx="347.6" cy="354.13" r="0.95" fill="#262626"/>
<circle cx="347.6" cy="340.00" r="0.95" fill="#262626"/>
<circle cx="347.6" cy="325.87" r="0.95" fill="#262626"/>
<circle cx="347.6" cy="311.74" r="0.95" fill="#262626"/>
<circle cx="262.0" cy="269.35" r="2.5" fill="#E06A5C" stroke="#2a2a2a" stroke-width="0.7"/>
<circle cx="262.0" cy="283.48" r="4.6" fill="#E48272" stroke="#2a2a2a" stroke-width="0.7"/>
<circle cx="262.0" cy="297.61" r="4.0" fill="#D0483F" stroke="#2a2a2a" stroke-width="0.7"/>
<circle cx="305.0" cy="269.35" r="2.3" fill="#E88070" stroke="#2a2a2a" stroke-width="0.7"/>
<circle cx="305.0" cy="283.48" r="3.4" fill="#E8907F" stroke="#2a2a2a" stroke-width="0.7"/>
<circle cx="305.0" cy="297.61" r="3.0" fill="#E07060" stroke="#2a2a2a" stroke-width="0.7"/>
<circle cx="347.6" cy="269.35" r="2.3" fill="#D05045" stroke="#2a2a2a" stroke-width="0.7"/>
<circle cx="347.6" cy="283.48" r="6.7" fill="#D05A4A" stroke="#2a2a2a" stroke-width="0.7"/>
<circle cx="347.6" cy="297.61" r="5.8" fill="#C0282C" stroke="#2a2a2a" stroke-width="0.7"/>
<circle cx="262.0" cy="438.91" r="2.7" fill="#E0806A" stroke="#2a2a2a" stroke-width="0.7"/>
<circle cx="262.0" cy="481.30" r="3.7" fill="#DD7463" stroke="#2a2a2a" stroke-width="0.7"/>
<circle cx="305.0" cy="481.30" r="2.2" fill="#E08570" stroke="#2a2a2a" stroke-width="0.7"/>
<circle cx="347.6" cy="481.30" r="4.2" fill="#D4604F" stroke="#2a2a2a" stroke-width="0.7"/>
<circle cx="347.6" cy="396.52" r="2.2" fill="#E8907F" stroke="#2a2a2a" stroke-width="0.7"/>
<circle cx="347.6" cy="495.43" r="1.7" fill="#9AA6D8" stroke="#2a2a2a" stroke-width="0.7"/>
<rect x="236.6" y="261.0" width="136.4" height="242.39999999999998" fill="none" stroke="#333" stroke-width="1.1"/>
<line x1="234.5" y1="495.43" x2="236.6" y2="495.43" stroke="#333" stroke-width="0.8"/>
<text x="233.80" y="498.13" font-size="7.4" fill="#1a1a1a" stroke="#1a1a1a" stroke-width="0.16" text-anchor="end">P-0</text>
<line x1="234.5" y1="481.30" x2="236.6" y2="481.30" stroke="#333" stroke-width="0.8"/>
<text x="233.80" y="484.00" font-size="7.4" fill="#1a1a1a" stroke="#1a1a1a" stroke-width="0.16" text-anchor="end">P-1</text>
<line x1="234.5" y1="467.17" x2="236.6" y2="467.17" stroke="#333" stroke-width="0.8"/>
<text x="233.80" y="469.87" font-size="7.4" fill="#1a1a1a" stroke="#1a1a1a" stroke-width="0.16" text-anchor="end">P-2</text>
<line x1="234.5" y1="453.04" x2="236.6" y2="453.04" stroke="#333" stroke-width="0.8"/>
<text x="233.80" y="455.74" font-size="7.4" fill="#1a1a1a" stroke="#1a1a1a" stroke-width="0.16" text-anchor="end">P-3</text>
<line x1="234.5" y1="438.91" x2="236.6" y2="438.91" stroke="#333" stroke-width="0.8"/>
<text x="233.80" y="441.61" font-size="7.4" fill="#1a1a1a" stroke="#1a1a1a" stroke-width="0.16" text-anchor="end">P-4</text>
<line x1="234.5" y1="424.78" x2="236.6" y2="424.78" stroke="#333" stroke-width="0.8"/>
<text x="233.80" y="427.48" font-size="7.4" fill="#1a1a1a" stroke="#1a1a1a" stroke-width="0.16" text-anchor="end">P-5</text>
<line x1="234.5" y1="410.65" x2="236.6" y2="410.65" stroke="#333" stroke-width="0.8"/>
<text x="233.80" y="413.35" font-size="7.4" fill="#1a1a1a" stroke="#1a1a1a" stroke-width="0.16" text-anchor="end">P-6</text>
<line x1="234.5" y1="396.52" x2="236.6" y2="396.52" stroke="#333" stroke-width="0.8"/>
<text x="233.80" y="399.22" font-size="7.4" fill="#1a1a1a" stroke="#1a1a1a" stroke-width="0.16" text-anchor="end">P-7</text>
<line x1="234.5" y1="382.39" x2="236.6" y2="382.39" stroke="#333" stroke-width="0.8"/>
<text x="233.80" y="385.09" font-size="7.4" fill="#1a1a1a" stroke="#1a1a1a" stroke-width="0.16" text-anchor="end">P-8</text>
<line x1="234.5" y1="368.26" x2="236.6" y2="368.26" stroke="#333" stroke-width="0.8"/>
<text x="233.80" y="370.96" font-size="7.4" fill="#1a1a1a" stroke="#1a1a1a" stroke-width="0.16" text-anchor="end">P-9</text>
<line x1="234.5" y1="354.13" x2="236.6" y2="354.13" stroke="#333" stroke-width="0.8"/>
<text x="233.80" y="356.83" font-size="7.4" fill="#1a1a1a" stroke="#1a1a1a" stroke-width="0.16" text-anchor="end">P-10</text>
<line x1="234.5" y1="340.00" x2="236.6" y2="340.00" stroke="#333" stroke-width="0.8"/>
<text x="233.80" y="342.70" font-size="7.4" fill="#1a1a1a" stroke="#1a1a1a" stroke-width="0.16" text-anchor="end">P-11</text>
<line x1="234.5" y1="325.87" x2="236.6" y2="325.87" stroke="#333" stroke-width="0.8"/>
<text x="233.80" y="328.57" font-size="7.4" fill="#1a1a1a" stroke="#1a1a1a" stroke-width="0.16" text-anchor="end">P-12</text>
<line x1="234.5" y1="311.74" x2="236.6" y2="311.74" stroke="#333" stroke-width="0.8"/>
<text x="233.80" y="314.44" font-size="7.4" fill="#1a1a1a" stroke="#1a1a1a" stroke-width="0.16" text-anchor="end">P-13</text>
<line x1="234.5" y1="297.61" x2="236.6" y2="297.61" stroke="#333" stroke-width="0.8"/>
<text x="233.80" y="300.31" font-size="7.4" fill="#1a1a1a" stroke="#1a1a1a" stroke-width="0.16" text-anchor="end">P-14</text>
<line x1="234.5" y1="283.48" x2="236.6" y2="283.48" stroke="#333" stroke-width="0.8"/>
<text x="233.80" y="286.18" font-size="7.4" fill="#1a1a1a" stroke="#1a1a1a" stroke-width="0.16" text-anchor="end">P-15</text>
<line x1="234.5" y1="269.35" x2="236.6" y2="269.35" stroke="#333" stroke-width="0.8"/>
<text x="233.80" y="272.05" font-size="7.4" fill="#1a1a1a" stroke="#1a1a1a" stroke-width="0.16" text-anchor="end">P-16</text>
<line x1="262.0" y1="503.4" x2="262.0" y2="505.4" stroke="#333" stroke-width="0.8"/>
<line x1="305.0" y1="503.4" x2="305.0" y2="505.4" stroke="#333" stroke-width="0.8"/>
<line x1="347.6" y1="503.4" x2="347.6" y2="505.4" stroke="#333" stroke-width="0.8"/>
<text x="0" y="0" font-size="10.5" fill="#111" stroke="#111" stroke-width="0.16" text-anchor="middle" transform="translate(212.30,374.60) rotate(-90)">Gene Program</text>
<rect x="210.6" y="275.6" width="174.2" height="16.6" fill="none" stroke="#8E30C0" stroke-width="1.25" stroke-dasharray="1.1,1.3"/>
<rect x="242.5" y="507.8" width="37" height="4" fill="#B3E6C8" stroke="#1DAA5A" stroke-width="1"/>
<text x="0" y="0" font-size="10.6" fill="#1DAA5A" stroke="#1DAA5A" stroke-width="0.16" text-anchor="end" transform="translate(265.2,516.6) rotate(-45)">VTP50469</text>
<rect x="285.5" y="507.8" width="37.60000000000002" height="4" fill="#B3E3F6" stroke="#1EAAE6" stroke-width="1"/>
<text x="0" y="0" font-size="10.6" fill="#1EAAE6" stroke="#1EAAE6" stroke-width="0.16" text-anchor="end" transform="translate(308.2,516.6) rotate(-45)">WM119</text>
<rect x="329.5" y="507.8" width="37" height="4" fill="#FCD0BC" stroke="#F07030" stroke-width="1"/>
<text x="0" y="0" font-size="10.6" fill="#F07030" stroke="#F07030" stroke-width="0.16" text-anchor="end" transform="translate(350.8,516.6) rotate(-45)">Combination</text>
<text x="377.00" y="311.40" font-size="7.6" fill="#111" stroke="#111" stroke-width="0.16" text-anchor="start" font-weight="bold">−log10(FDR)</text>
<circle cx="390.6" cy="320" r="3.6" fill="none" stroke="#1a1a1a" stroke-width="0.9"/>
<text x="399.00" y="322.70" font-size="7.6" fill="#111" stroke="#111" stroke-width="0.16" text-anchor="start">2</text>
<circle cx="390.6" cy="331" r="4.6" fill="none" stroke="#444" stroke-width="0.6"/>
<text x="399.00" y="333.70" font-size="7.6" fill="#111" stroke="#111" stroke-width="0.16" text-anchor="start">4</text>
<circle cx="390.6" cy="344.7" r="5.8" fill="none" stroke="#444" stroke-width="0.6"/>
<text x="399.00" y="347.40" font-size="7.6" fill="#111" stroke="#111" stroke-width="0.16" text-anchor="start">6</text>
<circle cx="390.6" cy="360" r="6.6" fill="none" stroke="#444" stroke-width="0.6"/>
<text x="399.00" y="362.70" font-size="7.6" fill="#111" stroke="#111" stroke-width="0.16" text-anchor="start">8</text>
<circle cx="390.6" cy="377" r="7.5" fill="none" stroke="#444" stroke-width="0.6"/>
<text x="399.00" y="379.70" font-size="7.6" fill="#111" stroke="#111" stroke-width="0.16" text-anchor="start">10</text>
<text x="380.30" y="405.20" font-size="7.6" fill="#111" stroke="#111" stroke-width="0.16" text-anchor="start" font-weight="bold">NES</text>
<defs><linearGradient id="ng" x1="0" y1="0" x2="0" y2="1"><stop offset="0" stop-color="#C0282C"/><stop offset="0.25" stop-color="#E58A80"/><stop offset="0.5" stop-color="#FFFFFF"/><stop offset="0.75" stop-color="#8A9AD2"/><stop offset="1" stop-color="#2448B0"/></linearGradient></defs>
<rect x="381.4" y="412.6" width="5.2" height="55.4" rx="2.0" fill="url(#ng)"/>
<line x1="381.4" y1="424.8" x2="382.4" y2="424.8" stroke="#fff" stroke-width="0.6"/><line x1="385.6" y1="424.8" x2="386.6" y2="424.8" stroke="#fff" stroke-width="0.6"/>
<line x1="381.4" y1="439" x2="382.4" y2="439" stroke="#fff" stroke-width="0.6"/><line x1="385.6" y1="439" x2="386.6" y2="439" stroke="#fff" stroke-width="0.6"/>
<line x1="381.4" y1="453" x2="382.4" y2="453" stroke="#fff" stroke-width="0.6"/><line x1="385.6" y1="453" x2="386.6" y2="453" stroke="#fff" stroke-width="0.6"/>
<text x="388.00" y="413.80" font-size="7.8" fill="#111" stroke="#111" stroke-width="0.16" text-anchor="start">2</text>
<text x="388.00" y="427.60" font-size="7.8" fill="#111" stroke="#111" stroke-width="0.16" text-anchor="start">1</text>
<text x="388.00" y="441.80" font-size="7.8" fill="#111" stroke="#111" stroke-width="0.16" text-anchor="start">0</text>
<text x="388.00" y="455.80" font-size="7.8" fill="#111" stroke="#111" stroke-width="0.16" text-anchor="start">−1</text>
<text x="388.00" y="469.30" font-size="7.8" fill="#111" stroke="#111" stroke-width="0.16" text-anchor="start">−2</text>
<text x="427.20" y="263.40" font-size="15.5" fill="#111" stroke="#111" stroke-width="0.16" text-anchor="start">E</text>
<text x="582.10" y="276.40" font-size="10.4" fill="#111" stroke="#111" stroke-width="0.16" text-anchor="middle">Myeloid Program (MP)</text>
<line x1="484.1" y1="282.5" x2="484.1" y2="466.3" stroke="#9a9a9a" stroke-width="1.1"/>
<line x1="678.7" y1="282.5" x2="678.7" y2="466.3" stroke="#9a9a9a" stroke-width="1.1"/>
<line x1="483.6" y1="282.5" x2="679.2" y2="282.5" stroke="#4a4a4a" stroke-width="1.0"/>
<text x="482.40" y="371.30" font-size="10.4" fill="#4d4d4d" stroke="#4d4d4d" stroke-width="0.16" text-anchor="end">0.0</text>
<text x="482.40" y="354.70" font-size="10.4" fill="#4d4d4d" stroke="#4d4d4d" stroke-width="0.16" text-anchor="end">0.1</text>
<text x="482.40" y="338.10" font-size="10.4" fill="#4d4d4d" stroke="#4d4d4d" stroke-width="0.16" text-anchor="end">0.2</text>
<text x="482.40" y="321.50" font-size="10.4" fill="#4d4d4d" stroke="#4d4d4d" stroke-width="0.16" text-anchor="end">0.3</text>
<text x="482.40" y="304.90" font-size="10.4" fill="#4d4d4d" stroke="#4d4d4d" stroke-width="0.16" text-anchor="end">0.4</text>
<text x="482.40" y="288.30" font-size="10.4" fill="#4d4d4d" stroke="#4d4d4d" stroke-width="0.16" text-anchor="end">0.5</text>
<text x="0" y="0" font-size="10.4" fill="#222" stroke="#222" stroke-width="0.16" text-anchor="middle" transform="translate(462.60,327.00) rotate(-90)">Enrichment Score</text>
<path d="M484,369.3 L486,371 L487.5,372.5 L488.6,370.7 L489.6,370.5 L490.3,367.5 L490.6,363.5 L491.6,363 L492.6,360.4 L493.1,357.4 L494.1,354.9 L494.9,352.3 L495.3,348.3 L496.3,346.8 L497.6,347.3 L498.7,344.5 L499.7,340.7 L500.2,339.2 L501.5,339.7 L502.2,335.7 L503.2,334.2 L504.4,332.6 L505.4,330.1 L506.4,328.1 L507.2,324.1 L508,320 L508.8,315.3 L510.1,309.1 L511.4,307.8 L512.7,306.1 L514.4,305.5 L516.2,303.9 L517.5,301.3 L518.4,297.3 L519.7,295.1 L521,293.4 L522.3,292.5 L523.6,290.8 L525.4,289.4 L526.7,289.4 L528,287.7 L529.3,288.3 L531.1,288 L532.8,288.1 L534.6,288.8 L535.9,289.4 L537.7,289.2 L539.4,288.8 L541.2,288 L543.3,287.4 L545.1,287.4 L547.3,288.1 L549,288.3 L551.2,289.2 L553.4,290.1 L556,290.3 L558.2,291.6 L560,292.9 L562.5,294.8 L567,298 L570.7,300.7 L574.3,303.4 L578.8,307 L583.3,310.6 L587.9,314.2 L592.4,317.9 L596,320.6 L599.6,322.4 L603.2,325.1 L606.9,327.8 L610.5,330.1 L615,332.3 L618,334.5 L621.6,336.8 L626.1,339.5 L630.7,342 L632.9,343.1 L635.2,344.9 L637.5,345.1 L640.6,347.4 L642.4,346.5 L644.2,347.8 L646.1,347.2 L648.8,348.7 L651.9,350.2 L654.2,352 L656.9,354 L658.7,354.7 L661.4,357.1 L662.8,355.6 L666,358.5 L670.5,362.6 L675,366.2 L678.2,368.9" fill="none" stroke="#2A8AC6" stroke-width="1.05" stroke-linejoin="round"/>
<text x="675.80" y="294.90" font-size="10.4" fill="#111" stroke="#111" stroke-width="0.16" text-anchor="end">NES = 1.77</text>
<text x="677.00" y="310.30" font-size="10.4" fill="#111" stroke="#111" stroke-width="0.16" text-anchor="end">FDR = 2.13e−08</text>
<rect x="484" y="373.5" width="1" height="23.2" fill="#C0C0C0"/><rect x="485" y="373.5" width="1" height="23.2" fill="#404040"/><rect x="486" y="373.5" width="1" height="23.2" fill="#888888"/><rect x="487" y="373.5" width="1" height="23.2" fill="#F0F0F0"/><rect x="488" y="373.5" width="1" height="23.2" fill="#505050"/><rect x="489" y="373.5" width="1" height="23.2" fill="#808080"/><rect x="490" y="373.5" width="1" height="23.2" fill="#707070"/><rect x="491" y="373.5" width="1" height="23.2" fill="#404040"/><rect x="492" y="373.5" width="1" height="23.2" fill="#F0F0F0"/><rect x="493" y="373.5" width="1" height="23.2" fill="#C0C0C0"/><rect x="494" y="373.5" width="1" height="23.2" fill="#505050"/><rect x="495" y="373.5" width="1" height="23.2" fill="#707070"/><rect x="496" y="373.5" width="1" height="23.2" fill="#808080"/><rect x="497" y="373.5" width="1" height="23.2" fill="#D0D0D0"/><rect x="498" y="373.5" width="1" height="23.2" fill="#404040"/><rect x="499" y="373.5" width="1" height="23.2" fill="#505050"/><rect x="500" y="373.5" width="1" height="23.2" fill="#F0F0F0"/><rect x="501" y="373.5" width="1" height="23.2" fill="#707070"/><rect x="502" y="373.5" width="1" height="23.2" fill="#404040"/><rect x="503" y="373.5" width="1" height="23.2" fill="#404040"/><rect x="504" y="373.5" width="1" height="23.2" fill="#303030"/><rect x="505" y="373.5" width="1" height="23.2" fill="#202020"/><rect x="506" y="373.5" width="1" height="23.2" fill="#282828"/><rect x="507" y="373.5" width="1" height="23.2" fill="#101010"/><rect x="508" y="373.5" width="1" height="23.2" fill="#404040"/><rect x="509" y="373.5" width="1" height="23.2" fill="#808080"/><rect x="510" y="373.5" width="1" height="23.2" fill="#909090"/><rect x="511" y="373.5" width="1" height="23.2" fill="#888888"/><rect x="512" y="373.5" width="1" height="23.2" fill="#909090"/><rect x="513" y="373.5" width="1" height="23.2" fill="#808080"/><rect x="514" y="373.5" width="1" height="23.2" fill="#707070"/><rect x="515" y="373.5" width="1" height="23.2" fill="#303030"/><rect x="516" y="373.5" width="1" height="23.2" fill="#202020"/><rect x="517" y="373.5" width="1" height="23.2" fill="#404040"/><rect x="518" y="373.5" width="1" height="23.2" fill="#C0C0C0"/><rect x="519" y="373.5" width="1" height="23.2" fill="#505050"/><rect x="520" y="373.5" width="1" height="23.2" fill="#909090"/><rect x="521" y="373.5" width="1" height="23.2" fill="#808080"/><rect x="522" y="373.5" width="1" height="23.2" fill="#404040"/><rect x="523" y="373.5" width="1" height="23.2" fill="#606060"/><rect x="524" y="373.5" width="1" height="23.2" fill="#505050"/><rect x="525" y="373.5" width="1" height="23.2" fill="#E0E0E0"/><rect x="526" y="373.5" width="1" height="23.2" fill="#808080"/><rect x="527" y="373.5" width="1" height="23.2" fill="#303030"/><rect x="528" y="373.5" width="1" height="23.2" fill="#F0F0F0"/><rect x="529" y="373.5" width="1" height="23.2" fill="#C0C0C0"/><rect x="530" y="373.5" width="1" height="23.2" fill="#606060"/><rect x="531" y="373.5" width="1" height="23.2" fill="#707070"/><rect x="532" y="373.5" width="1" height="23.2" fill="#505050"/><rect x="533" y="373.5" width="1" height="23.2" fill="#A0A0A0"/><rect x="534" y="373.5" width="1" height="23.2" fill="#D0D0D0"/><rect x="535" y="373.5" width="1" height="23.2" fill="#E8E8E8"/><rect x="536" y="373.5" width="1" height="23.2" fill="#F0F0F0"/><rect x="537" y="373.5" width="1" height="23.2" fill="#404040"/><rect x="538" y="373.5" width="1" height="23.2" fill="#606060"/><rect x="539" y="373.5" width="1" height="23.2" fill="#707070"/><rect x="540" y="373.5" width="1" height="23.2" fill="#505050"/><rect x="541" y="373.5" width="1" height="23.2" fill="#101010"/><rect x="542" y="373.5" width="1" height="23.2" fill="#505050"/><rect x="543" y="373.5" width="1" height="23.2" fill="#404040"/><rect x="544" y="373.5" width="1" height="23.2" fill="#505050"/><rect x="545" y="373.5" width="1" height="23.2" fill="#606060"/><rect x="546" y="373.5" width="1" height="23.2" fill="#808080"/><rect x="547" y="373.5" width="1" height="23.2" fill="#404040"/><rect x="548" y="373.5" width="1" height="23.2" fill="#707070"/><rect x="549" y="373.5" width="1" height="23.2" fill="#909090"/><rect x="550" y="373.5" width="1" height="23.2" fill="#888888"/><rect x="551" y="373.5" width="1" height="23.2" fill="#909090"/><rect x="552" y="373.5" width="1" height="23.2" fill="#A0A0A0"/><rect x="553" y="373.5" width="1" height="23.2" fill="#909090"/><rect x="554" y="373.5" width="1" height="23.2" fill="#989898"/><rect x="555" y="373.5" width="1" height="23.2" fill="#909090"/><rect x="556" y="373.5" width="1" height="23.2" fill="#888888"/><rect x="557" y="373.5" width="1" height="23.2" fill="#303030"/><rect x="558" y="373.5" width="1" height="23.2" fill="#606060"/><rect x="559" y="373.5" width="1" height="23.2" fill="#808080"/><rect x="560" y="373.5" width="1" height="23.2" fill="#989898"/><rect x="561" y="373.5" width="1" height="23.2" fill="#A0A0A0"/><rect x="562" y="373.5" width="1" height="23.2" fill="#909090"/><rect x="563" y="373.5" width="1" height="23.2" fill="#F0F0F0"/><rect x="564" y="373.5" width="1" height="23.2" fill="#606060"/><rect x="565" y="373.5" width="1" height="23.2" fill="#E0E0E0"/><rect x="566" y="373.5" width="1" height="23.2" fill="#909090"/><rect x="567" y="373.5" width="1" height="23.2" fill="#F8F8F8"/><rect x="568" y="373.5" width="1" height="23.2" fill="#707070"/><rect x="569" y="373.5" width="1" height="23.2" fill="#A0A0A0"/><rect x="570" y="373.5" width="1" height="23.2" fill="#909090"/><rect x="571" y="373.5" width="1" height="23.2" fill="#C0C0C0"/><rect x="572" y="373.5" width="1" height="23.2" fill="#808080"/><rect x="573" y="373.5" width="1" height="23.2" fill="#606060"/><rect x="574" y="373.5" width="1" height="23.2" fill="#202020"/><rect x="575" y="373.5" width="1" height="23.2" fill="#F8F8F8"/><rect x="576" y="373.5" width="1" height="23.2" fill="#F0F0F0"/><rect x="577" y="373.5" width="1" height="23.2" fill="#505050"/><rect x="578" y="373.5" width="1" height="23.2" fill="#707070"/><rect x="579" y="373.5" width="1" height="23.2" fill="#F0F0F0"/><rect x="580" y="373.5" width="1" height="23.2" fill="#303030"/><rect x="581" y="373.5" width="1" height="23.2" fill="#808080"/><rect x="582" y="373.5" width="1" height="23.2" fill="#606060"/><rect x="583" y="373.5" width="1" height="23.2" fill="#707070"/><rect x="584" y="373.5" width="1" height="23.2" fill="#909090"/><rect x="585" y="373.5" width="1" height="23.2" fill="#303030"/><rect x="586" y="373.5" width="1" height="23.2" fill="#202020"/><rect x="587" y="373.5" width="1" height="23.2" fill="#B0B0B0"/><rect x="588" y="373.5" width="1" height="23.2" fill="#A8A8A8"/><rect x="589" y="373.5" width="1" height="23.2" fill="#A0A0A0"/><rect x="590" y="373.5" width="1" height="23.2" fill="#B0B0B0"/><rect x="591" y="373.5" width="1" height="23.2" fill="#A0A0A0"/><rect x="592" y="373.5" width="1" height="23.2" fill="#909090"/><rect x="593" y="373.5" width="1" height="23.2" fill="#A8A8A8"/><rect x="594" y="373.5" width="1" height="23.2" fill="#989898"/><rect x="595" y="373.5" width="1" height="23.2" fill="#B0B0B0"/><rect x="596" y="373.5" width="1" height="23.2" fill="#C8C8C8"/><rect x="597" y="373.5" width="1" height="23.2" fill="#E0E0E0"/><rect x="598" y="373.5" width="1" height="23.2" fill="#303030"/><rect x="599" y="373.5" width="1" height="23.2" fill="#F8F8F8"/><rect x="600" y="373.5" width="1" height="23.2" fill="#F0F0F0"/><rect x="601" y="373.5" width="1" height="23.2" fill="#404040"/><rect x="602" y="373.5" width="1" height="23.2" fill="#F0F0F0"/><rect x="603" y="373.5" width="1" height="23.2" fill="#707070"/><rect x="604" y="373.5" width="1" height="23.2" fill="#606060"/><rect x="605" y="373.5" width="1" height="23.2" fill="#606060"/><rect x="606" y="373.5" width="1" height="23.2" fill="#707070"/><rect x="607" y="373.5" width="1" height="23.2" fill="#909090"/><rect x="608" y="373.5" width="1" height="23.2" fill="#F0F0F0"/><rect x="609" y="373.5" width="1" height="23.2" fill="#F8F8F8"/><rect x="610" y="373.5" width="1" height="23.2" fill="#909090"/><rect x="611" y="373.5" width="1" height="23.2" fill="#A0A0A0"/><rect x="612" y="373.5" width="1" height="23.2" fill="#B0B0B0"/><rect x="613" y="373.5" width="1" height="23.2" fill="#505050"/><rect x="614" y="373.5" width="1" height="23.2" fill="#D0D0D0"/><rect x="615" y="373.5" width="1" height="23.2" fill="#E8E8E8"/><rect x="616" y="373.5" width="1" height="23.2" fill="#C0C0C0"/><rect x="617" y="373.5" width="1" height="23.2" fill="#404040"/><rect x="618" y="373.5" width="1" height="23.2" fill="#A0A0A0"/><rect x="619" y="373.5" width="1" height="23.2" fill="#A0A0A0"/><rect x="620" y="373.5" width="1" height="23.2" fill="#A0A0A0"/><rect x="621" y="373.5" width="1" height="23.2" fill="#A8A8A8"/><rect x="622" y="373.5" width="1" height="23.2" fill="#B0B0B0"/><rect x="623" y="373.5" width="1" height="23.2" fill="#303030"/><rect x="624" y="373.5" width="1" height="23.2" fill="#606060"/><rect x="625" y="373.5" width="1" height="23.2" fill="#F0F0F0"/><rect x="626" y="373.5" width="1" height="23.2" fill="#FFFFFF"/><rect x="627" y="373.5" width="1" height="23.2" fill="#FFFFFF"/><rect x="628" y="373.5" width="1" height="23.2" fill="#FFFFFF"/><rect x="629" y="373.5" width="1" height="23.2" fill="#F8F8F8"/><rect x="630" y="373.5" width="1" height="23.2" fill="#A0A0A0"/><rect x="631" y="373.5" width="1" height="23.2" fill="#909090"/><rect x="632" y="373.5" width="1" height="23.2" fill="#A0A0A0"/><rect x="633" y="373.5" width="1" height="23.2" fill="#D0D0D0"/><rect x="634" y="373.5" width="1" height="23.2" fill="#FFFFFF"/><rect x="635" y="373.5" width="1" height="23.2" fill="#C0C0C0"/><rect x="636" y="373.5" width="1" height="23.2" fill="#D0D0D0"/><rect x="637" y="373.5" width="1" height="23.2" fill="#A0A0A0"/><rect x="638" y="373.5" width="1" height="23.2" fill="#B0B0B0"/><rect x="639" y="373.5" width="1" height="23.2" fill="#C0C0C0"/><rect x="640" y="373.5" width="1" height="23.2" fill="#505050"/><rect x="641" y="373.5" width="1" height="23.2" fill="#F8F8F8"/><rect x="642" y="373.5" width="1" height="23.2" fill="#FFFFFF"/><rect x="643" y="373.5" width="1" height="23.2" fill="#505050"/><rect x="644" y="373.5" width="1" height="23.2" fill="#FFFFFF"/><rect x="645" y="373.5" width="1" height="23.2" fill="#FFFFFF"/><rect x="646" y="373.5" width="1" height="23.2" fill="#D0D0D0"/><rect x="647" y="373.5" width="1" height="23.2" fill="#A0A0A0"/><rect x="648" y="373.5" width="1" height="23.2" fill="#A0A0A0"/><rect x="649" y="373.5" width="1" height="23.2" fill="#B0B0B0"/><rect x="650" y="373.5" width="1" height="23.2" fill="#C0C0C0"/><rect x="651" y="373.5" width="1" height="23.2" fill="#E0E0E0"/><rect x="652" y="373.5" width="1" height="23.2" fill="#C8C8C8"/><rect x="653" y="373.5" width="1" height="23.2" fill="#D0D0D0"/><rect x="654" y="373.5" width="1" height="23.2" fill="#909090"/><rect x="655" y="373.5" width="1" height="23.2" fill="#404040"/><rect x="656" y="373.5" width="1" height="23.2" fill="#C0C0C0"/><rect x="657" y="373.5" width="1" height="23.2" fill="#FFFFFF"/><rect x="658" y="373.5" width="1" height="23.2" fill="#D0D0D0"/><rect x="659" y="373.5" width="1" height="23.2" fill="#606060"/><rect x="660" y="373.5" width="1" height="23.2" fill="#F8F8F8"/><rect x="661" y="373.5" width="1" height="23.2" fill="#FFFFFF"/><rect x="662" y="373.5" width="1" height="23.2" fill="#A0A0A0"/><rect x="663" y="373.5" width="1" height="23.2" fill="#D0D0D0"/><rect x="664" y="373.5" width="1" height="23.2" fill="#909090"/><rect x="665" y="373.5" width="1" height="23.2" fill="#D0D0D0"/><rect x="666" y="373.5" width="1" height="23.2" fill="#A0A0A0"/><rect x="667" y="373.5" width="1" height="23.2" fill="#FFFFFF"/><rect x="668" y="373.5" width="1" height="23.2" fill="#FFFFFF"/><rect x="669" y="373.5" width="1" height="23.2" fill="#FFFFFF"/><rect x="670" y="373.5" width="1" height="23.2" fill="#F0F0F0"/><rect x="671" y="373.5" width="1" height="23.2" fill="#B0B0B0"/><rect x="672" y="373.5" width="1" height="23.2" fill="#A0A0A0"/><rect x="673" y="373.5" width="1" height="23.2" fill="#FFFFFF"/><rect x="674" y="373.5" width="1" height="23.2" fill="#FFFFFF"/><rect x="675" y="373.5" width="1" height="23.2" fill="#FFFFFF"/><rect x="676" y="373.5" width="1" height="23.2" fill="#FFFFFF"/><rect x="677" y="373.5" width="1" height="23.2" fill="#FFFFFF"/>
<line x1="483.6" y1="373.6" x2="483.6" y2="396.8" stroke="#333" stroke-width="1.0"/>
<line x1="678.7" y1="373.6" x2="678.7" y2="396.8" stroke="#333" stroke-width="1.0"/>
<line x1="483.1" y1="373.6" x2="679.2" y2="373.6" stroke="#333" stroke-width="1.3"/>
<line x1="483.1" y1="396.8" x2="679.2" y2="396.8" stroke="#333" stroke-width="1.3"/>
<defs><linearGradient id="rg" x1="0" y1="0" x2="1" y2="0"><stop offset="0" stop-color="#F07470" stop-opacity="0.88"/><stop offset="0.5" stop-color="#F4A29A" stop-opacity="0.45"/><stop offset="1" stop-color="#FAD0CC" stop-opacity="0.2"/></linearGradient><linearGradient id="bg2" x1="0" y1="0" x2="1" y2="0"><stop offset="0" stop-color="#D0DCF2" stop-opacity="0.1"/><stop offset="0.6" stop-color="#B8C8EA" stop-opacity="0.4"/><stop offset="0.88" stop-color="#8CA6D8" stop-opacity="0.6"/><stop offset="1" stop-color="#5A80C8" stop-opacity="0.9"/></linearGradient></defs>
<path d="M484.6,433.5 L484.6,409.9 C485,416 486,419.3 488.1,422.7 C490,424.6 492,426 497.6,428.8 C502,430 507,430.8 520.5,432.2 C530,433 540,433.3 560,433.5 Z" fill="url(#rg)"/>
<path d="M600,433.5 C630,433.6 655,434.3 664,437 C671,439.5 676,445 678.2,453 L678.2,433.5 Z" fill="url(#bg2)"/>
<line x1="483.6" y1="466.3" x2="679.2" y2="466.3" stroke="#4a4a4a" stroke-width="1.0"/>
<text x="482.60" y="405.40" font-size="10.4" fill="#4d4d4d" stroke="#4d4d4d" stroke-width="0.16" text-anchor="end">10</text>
<text x="482.60" y="420.75" font-size="10.4" fill="#4d4d4d" stroke="#4d4d4d" stroke-width="0.16" text-anchor="end">5</text>
<text x="482.60" y="436.10" font-size="10.4" fill="#4d4d4d" stroke="#4d4d4d" stroke-width="0.16" text-anchor="end">0</text>
<text x="482.60" y="451.45" font-size="10.4" fill="#4d4d4d" stroke="#4d4d4d" stroke-width="0.16" text-anchor="end">−5</text>
<text x="482.60" y="466.80" font-size="10.4" fill="#4d4d4d" stroke="#4d4d4d" stroke-width="0.16" text-anchor="end">−10</text>
<text x="486.80" y="410.60" font-size="10.4" fill="#111" stroke="#111" stroke-width="0.16" text-anchor="start">Combination</text>
<text x="675.20" y="409.20" font-size="10.4" fill="#4A80C8" stroke="#4A80C8" stroke-width="0.16" text-anchor="end">DMSO</text>
<text x="0" y="0" font-size="10.4" fill="#222" stroke="#222" stroke-width="0.16" text-anchor="middle" transform="translate(462.60,431.50) rotate(-90)">Ranked Metric</text>
<text x="484.50" y="477.20" font-size="10.2" fill="#4d4d4d" stroke="#4d4d4d" stroke-width="0.16" text-anchor="middle">0</text>
<text x="546.60" y="477.20" font-size="10.2" fill="#4d4d4d" stroke="#4d4d4d" stroke-width="0.16" text-anchor="middle">5000</text>
<text x="609.10" y="477.20" font-size="10.2" fill="#4d4d4d" stroke="#4d4d4d" stroke-width="0.16" text-anchor="middle">10000</text>
<text x="668.70" y="477.20" font-size="10.2" fill="#4d4d4d" stroke="#4d4d4d" stroke-width="0.16" text-anchor="middle">15000</text>
<text x="577.30" y="493.00" font-size="10.4" fill="#222" stroke="#222" stroke-width="0.16" text-anchor="middle">Rank in Ordered Dataset</text>
</svg></body></html>
